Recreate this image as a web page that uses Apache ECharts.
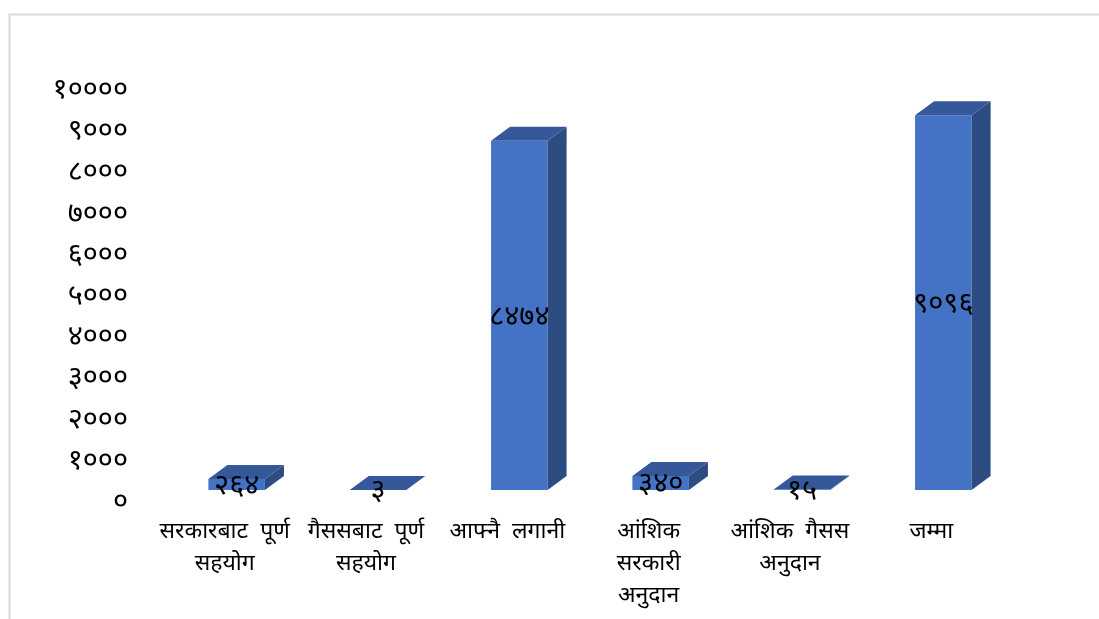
<!DOCTYPE html>
<html>
<head>
<meta charset="utf-8">
<script src="https://cdn.jsdelivr.net/npm/echarts@6/dist/echarts.min.js"></script>
<style>
  html, body { margin: 0; padding: 0; background: #fff; }
  #chart { width: 1099px; height: 619px; }
</style>
</head>
<body>
<div id="chart"></div>
<script>
// categories and values
const categories = [
  'सरकारबाट  पूर्ण\nसहयोग',
  'गैससबाट  पूर्ण\nसहयोग',
  'आफ्नै  लगानी',
  'आंशिक\nसरकारी\nअनुदान',
  'आंशिक  गैसस\nअनुदान',
  'जम्मा'
]
const values = [264, 3, 8474, 340, 15, 9096]
const yTicks = [0, 1000, 2000, 3000, 4000, 5000, 6000, 7000, 8000, 9000, 10000]

const devDigits = ['०', '१', '२', '३', '४', '५', '६', '७', '८', '९']
function toDev (n) {
  return String(n).replace(/[0-9]/g, d => devDigits[+d])
}

const FONT = '"Noto Sans Devanagari", "Noto Serif Devanagari", "Lohit Devanagari", "Noto Sans", sans-serif'
const DX = 19
const DY = 14
const SHIFT = 12

function renderBar (params, api) {
  const idx = api.value(0)
  const v = api.value(1)
  const base = api.coord([idx, 0])
  const top = api.coord([idx, v])
  const w = api.size([1, 0])[0] * 0.4
  const x0 = base[0] - w / 2 + SHIFT
  const x1 = x0 + w
  const y0 = base[1]
  const y1 = top[1]
  return {
    type: 'group',
    children: [
      {
        type: 'rect',
        shape: { x: x0, y: y1, width: w, height: y0 - y1 },
        style: { fill: '#4472C4' }
      },
      {
        type: 'polygon',
        shape: { points: [[x1, y1], [x1 + DX, y1 - DY], [x1 + DX, y0 - DY], [x1, y0]] },
        style: { fill: '#2C4C82' }
      },
      {
        type: 'polygon',
        shape: { points: [[x0, y1], [x1, y1], [x1 + DX, y1 - DY], [x0 + DX, y1 - DY]] },
        style: { fill: '#34589A' }
      },
      {
        type: 'text',
        style: {
          text: toDev(v),
          x: x0 + w / 2,
          y: (y0 + y1) / 2 + 4,
          align: 'center',
          verticalAlign: 'middle',
          fill: '#000',
          font: '29px ' + FONT
        }
      }
    ]
  }
}

const chart = echarts.init(document.getElementById('chart'))
chart.setOption({
  animation: false,
  graphic: [
    {
      type: 'rect',
      shape: { x: 9.5, y: 14.5, width: 1200, height: 700 },
      style: { fill: 'none', stroke: '#d9d9d9', lineWidth: 2 },
      silent: true
    }
  ],
  grid: { left: 154, right: 97, top: 78, bottom: 129 },
  xAxis: {
    type: 'category',
    data: categories,
    axisLine: { show: false },
    axisTick: { show: false },
    axisLabel: {
      interval: 0,
      margin: 28,
      color: '#000',
      fontFamily: FONT,
      fontSize: 23,
      lineHeight: 32,
      align: 'center'
    }
  },
  yAxis: {
    type: 'value',
    min: 0,
    max: 10000,
    interval: 1000,
    splitLine: { show: false },
    axisLine: { show: false },
    axisTick: { show: false },
    axisLabel: {
      margin: 26,
      color: '#000',
      fontFamily: FONT,
      fontSize: 29,
      verticalAlign: 'top',
      formatter: v => yTicks.includes(v) ? toDev(v) : ''
    }
  },
  series: [
    {
      type: 'custom',
      renderItem: renderBar,
      data: values.map((v, i) => [i, v]),
      encode: { x: 0, y: 1 }
    }
  ]
})
</script>
</body>
</html>
